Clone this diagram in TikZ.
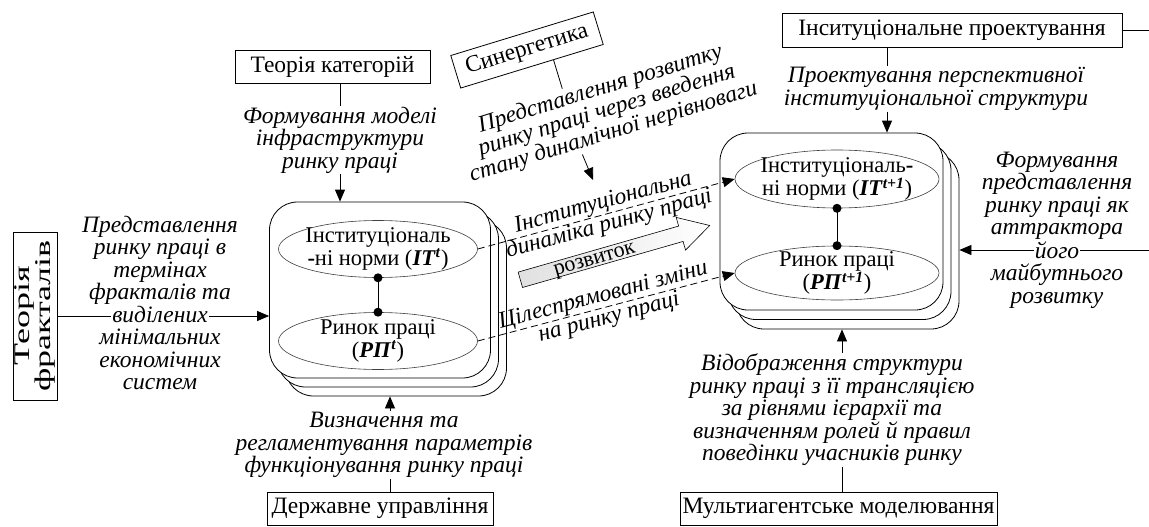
\documentclass[tikz,border=0pt]{standalone}
\usepackage{graphicx}
\usepackage{fontspec}
\setmainfont{Liberation Serif}
\usetikzlibrary{arrows.meta,shapes.geometric,calc}
\newcommand{\hlw}[1]{{\setlength{\fboxsep}{1pt}\colorbox{white}{#1}}}
\newcommand{\bi}[1]{\textbf{\textit{#1}}}
\begin{document}
\begin{tikzpicture}[x=1pt,y=-1pt,
  every node/.style={font=\fontsize{23.5}{22.5}\selectfont},
  box/.style={draw, line width=0.8pt, inner sep=0pt},
  itx/.style={font=\fontsize{23.5}{22.5}\selectfont\itshape, align=center, inner sep=1pt},
  txt/.style={font=\fontsize{22.5}{22.5}\selectfont, align=center, inner sep=1pt},
  bigbox/.style={draw, line width=0.8pt, rounded corners=28pt, fill=white, minimum width=221pt, minimum height=176pt, inner sep=0pt},
  ell/.style={draw=black!75, line width=0.6pt, ellipse, inner sep=0pt, minimum width=199pt, minimum height=57pt},
  arr/.style={-{Triangle[length=12pt,width=10pt]}, line width=0.8pt},
  dsh/.style={arr, dash pattern=on 7pt off 4pt},
  ln/.style={line width=0.8pt},
  dot/.style={circle, fill, inner sep=0pt, minimum size=9pt}
]
\useasboundingbox (0,0) rectangle (1149,527);

% ---------- left block ----------
\node[bigbox] (L3) at (396,308) {};
\node[bigbox] (L2) at (388,299) {};
\node[bigbox] (L1) at (380,290) {};
\node[ell] (itL) at (378,249) {};
\node[txt] (itLt) at (itL) {Інституціональ\\\textbf{-}ні норми (\bi{ІТ}\textsuperscript{\bi{t}})};
\node[ell] (rpL) at (378,341) {};
\node[txt] (rpLt) at (rpL) {Ринок праці\\(\bi{РП}\textsuperscript{\bi{t}})};
\draw[ln] (itL.south) -- (rpL.north);
\node[dot] (dL1) at (itL.south) {};
\node[dot] (dL2) at (rpL.north) {};

% ---------- right block ----------
\node[bigbox, minimum width=223pt, minimum height=177pt] (R3) at (847.5,240.5) {};
\node[bigbox, minimum width=223pt, minimum height=177pt] (R2) at (839.5,231) {};
\node[bigbox, minimum width=223pt, minimum height=177pt] (R1) at (831.5,221.5) {};
\node[ell, minimum width=204pt, minimum height=58pt] (itR) at (837,179) {};
\node[txt] (itRt) at (itR) {Інституціональ\textbf{-}\\ні норми (\bi{ІТ}\textsuperscript{\bi{t+1}})};
\node[ell, minimum width=204pt, minimum height=54pt] (rpR) at (837,273) {};
\node[txt] (rpRt) at (rpR) {Ринок праці\\(\bi{РП}\textsuperscript{\bi{t+1}})};
\draw[ln] (itR.south) -- (rpR.north);
\node[dot] (dR1) at (itR.south) {};
\node[dot] (dR2) at (rpR.north) {};

% ---------- dashed links ----------
\draw[dsh] (itL.east) -- node[itx, sloped] (lab1) {Інституціональна\\динаміка ринку праці} (itR.west);
\draw[dsh] (rpL.east) -- node[itx, sloped] (lab2) {Цілеспрямовані зміни\\на ринку праці} (rpR.west);

% ---------- big arrow ----------
\begin{scope}[shift={(615.5,252.5)}, rotate=16]
\shade[draw, line width=0.6pt, left color=black!12, right color=white]
  (-99,-8) -- (68,-8) -- (68,-17) -- (98,0) -- (68,17) -- (68,8) -- (-99,8) -- cycle;
\node[rotate=16, inner sep=0pt, font=\fontsize{22}{22}\selectfont] (rozv) at (-22,3) {розвиток};
\end{scope}

% ---------- top left ----------
\node[box, minimum width=195pt, minimum height=33pt] (tc) at (332.5,66.5) {Теорія категорій};
\node[itx] (tct) at (340,140) {Формування моделі\\інфраструктури\\ринку праці};
\draw[ln] (tc.south -| tct.north) -- (tct.north);
\draw[arr] (tct.south) -- (tct.south |- L1.north);

% ---------- synergetics ----------
\node[box, rotate=17, minimum width=149pt, minimum height=34pt] (syn) at (527,50) {Синергетика};
\node[itx, rotate=17] (synt) at (607,111) {Представлення розвитку\\ринку праці через введення\\стану динамічної нерівноваги};
\coordinate (synend) at (593,180);
\draw[ln] ($(syn.south west)!0.65!(syn.south east)$) -- ($(synt.north west)!0.38!(synt.north east)$);
\draw[arr] ($(synt.south west)!0.38!(synt.south east)$) -- (synend);

% ---------- top right ----------
\node[box, minimum width=340pt, minimum height=34pt] (ip) at (952,30) {Інситуціональне проектування};
\coordinate (ipend) at (1149,30);
\draw[ln] (ip.east) -- (ipend);
\node[itx] (ipt) at (936,89) {Проектування перспективної\\інституціональної структури};
\coordinate (ipx) at ([xshift=-49pt]ipt.north);
\coordinate (ipy) at ([xshift=-49pt]ipt.south);
\draw[ln] (ip.south -| ipx) -- (ipx);
\draw[arr] (ipy) -- (ipy |- R1.north);

% ---------- left input ----------
\node[box, rotate=90, minimum width=168pt, minimum height=44pt, align=center, font=\fontsize{22.5}{21}\selectfont] (tf) at (35,316) {\scalebox{1.6}[1]{Теорія}\\\scalebox{1.6}[1]{фракталів}};
\draw[arr] (tf.south) -- (tf.south -| L1.west);
\node[itx] (tft) at (160,303) {Представлення\\ринку праці в\\термінах\\фракталів та\\\hlw{виділених}\\мінімальних\\економічних\\систем};

% ---------- right input ----------
\coordinate (rin) at (1149,250);
\draw[arr] (rin) -- (rin -| R3.east);
\node[itx] (rt) at (1057,230) {Формування\\представлення\\ринку праці як\\аттрактора\\\hlw{його}\\майбутнього\\розвитку};

% ---------- bottom left ----------
\node[box, minimum width=226pt, minimum height=33pt] (du) at (380,508.5) {Державне управління};
\node[itx] (dut) at (384,445) {Визначення та\\регламентування параметрів\\функціонування ринку праці};
\coordinate (dux) at ([xshift=6pt]dut.south);
\coordinate (duy) at ([xshift=6pt]dut.north);
\draw[ln] (du.north -| dux) -- (dux);
\draw[arr] (duy) -- (duy |- L3.south);

% ---------- bottom right ----------
\node[box, minimum width=317pt, minimum height=33pt] (mm) at (838.5,508.5) {Мультиагентське моделювання};
\node[itx] (mmt) at (832,410) {Відображення структури\\ринку праці з її трансляцією\\за рівнями ієрархії та\\визначенням ролей й правил\\поведінки учасників ринку};
\coordinate (mmx) at ([xshift=10pt]mmt.south);
\coordinate (mmy) at ([xshift=10pt]mmt.north);
\draw[ln] (mm.north -| mmx) -- (mmx);
\draw[arr] (mmy) -- (mmy |- R3.south);
\end{tikzpicture}
\end{document}
